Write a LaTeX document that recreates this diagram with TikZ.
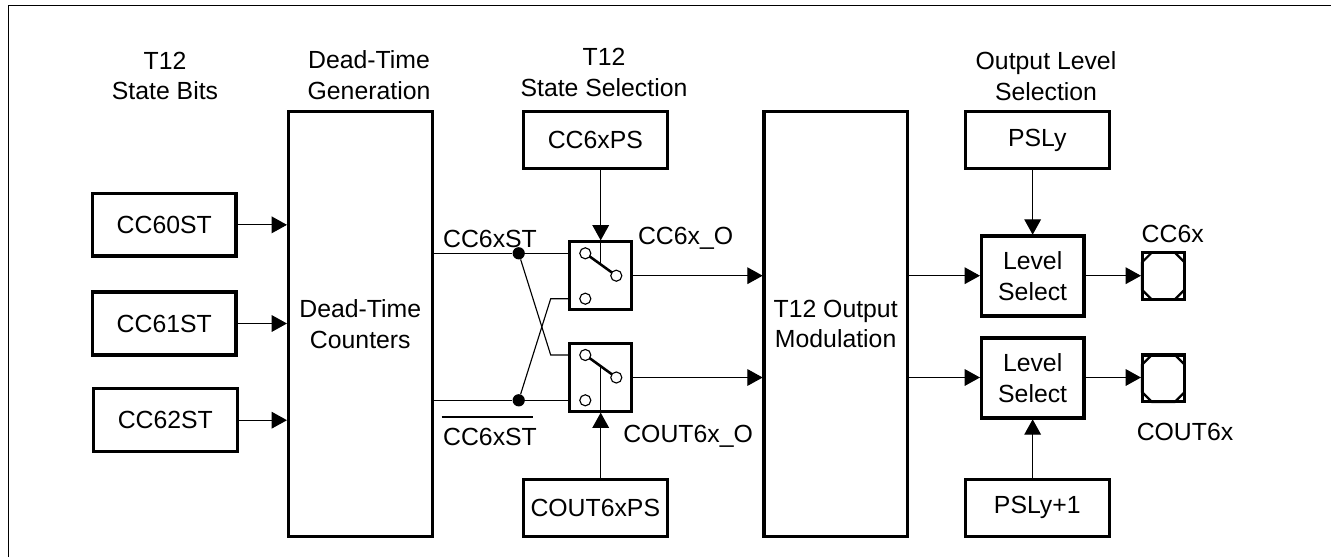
\documentclass[tikz,border=0pt]{standalone}
\usepackage{fontspec}
\setmainfont{Liberation Sans}
\usetikzlibrary{arrows.meta,calc}
\tikzset{
  thinl/.style={line width=0.85pt,black},
  arr/.style={thinl,-{Triangle[length=11.5pt,width=12.5pt]},shorten >=-0.3pt},
  blockbox/.style={draw=black,line width=2.6pt,inner sep=0pt,align=center,fill=white},
  lbl/.style={inner sep=0pt,outer sep=0pt,align=center,anchor=base},
  contact/.style={circle,draw=black,line width=0.85pt,fill=white,minimum size=8.3pt,inner sep=0pt},
  junction/.style={circle,fill=black,minimum size=9.2pt,inner sep=0pt},
}
\newcommand{\pxbox}[6]{%
  \pgfmathsetmacro{\bw}{(#4-#2)*0.75}%
  \pgfmathsetmacro{\bh}{(#5-#3)*0.75}%
  \node[blockbox,minimum width=\bw pt,minimum height=\bh pt] (#1) at ({(#2+#4)/2},{(#3+#5)/2}) {#6};%
}
\newcommand{\pxpad}[5]{%
  \pxbox{#1}{#2}{#3}{#4}{#5}{}%
  \draw[line width=1.7pt,black] ([xshift=8.5pt,yshift=-1.1pt]#1.north west) -- ([xshift=-8.5pt,yshift=-1.1pt]#1.north east)
    -- ([xshift=-1.1pt,yshift=-8.5pt]#1.north east) -- ([xshift=-1.1pt,yshift=8.5pt]#1.south east)
    -- ([xshift=-8.5pt,yshift=1.1pt]#1.south east) -- ([xshift=8.5pt,yshift=1.1pt]#1.south west)
    -- ([xshift=1.1pt,yshift=8.5pt]#1.south west) -- ([xshift=1.1pt,yshift=-8.5pt]#1.north west) -- cycle;%
}
\begin{document}
\begin{tikzpicture}[x=0.75pt,y=-0.75pt,font=\fontsize{18.6}{23}\selectfont]
\useasboundingbox (0,0) rectangle (1331,557);
\fill[white] (0,0) rectangle (1331,557);
\coordinate (fa) at (8.5,557);
\coordinate (fb) at (8.5,5.5);
\coordinate (fc) at (1331,5.5);
\draw[line width=0.9pt] (fa) -- (fb) -- (fc);

% headers
\node[lbl] (h1a) at (165,69) {T12};
\node[lbl] (h1b) at (165,99.3) {State Bits};
\node[lbl] (h2a) at (369,68.7) {Dead-Time};
\node[lbl] (h2b) at (369,99.3) {Generation};
\node[lbl] (h3a) at (604,65.7) {T12};
\node[lbl] (h3b) at (604,96.7) {State Selection};
\node[lbl] (h4a) at (1046,69.5) {Output Level};
\node[lbl] (h4b) at (1046,100) {Selection};

% blocks
\pxbox{cc60}{92.5}{193.7}{236}{256}{CC60ST}
\pxbox{cc61}{92.5}{292}{236}{355}{CC61ST}
\pxbox{cc62}{93.3}{388.7}{237.3}{451.7}{CC62ST}
\pxbox{dead}{288.3}{111.7}{432.3}{536.3}{Dead-Time\\Counters}
\pxbox{ps}{523.3}{111.7}{667.3}{168.7}{CC6xPS}
\pxbox{cps}{523.3}{479.3}{667.3}{536.3}{COUT6xPS}
\pxbox{mod}{764}{111.7}{907.3}{536.3}{T12 Output\\Modulation}
\pxbox{psl}{965.3}{111.7}{1109.3}{168.7}{PSLy}
\pxbox{pslb}{965.3}{479.3}{1109.3}{536.3}{PSLy+1}
\pxbox{lv1}{981.3}{236}{1084}{316}{Level\\Select}
\pxbox{lv2}{981.3}{338}{1084}{418}{Level\\Select}
\pxbox{sw1}{569.7}{241.7}{631.7}{309.3}{}
\pxbox{sw2}{569.7}{343.7}{631.7}{411.3}{}
\pxpad{pd1}{1142.3}{252.7}{1184.3}{299.3}
\pxpad{pd2}{1142.3}{355}{1184.3}{401.7}

% switch contacts
\coordinate (a1p) at (585.3,253.3);
\coordinate (b1p) at (616.3,275.7);
\coordinate (a2p) at (585.3,355);
\coordinate (b2p) at (616.3,377.5);
\draw[line width=1.9pt] (a1p) -- (b1p);
\draw[line width=1.9pt] (a2p) -- (b2p);
\coordinate (m1) at ($(a1p)!0.5!(b1p)$);
\coordinate (m2) at ($(a2p)!0.5!(b2p)$);

% junctions and crossing wires
\node[junction] (j1) at (518.7,253.3) {};
\node[junction] (j2) at (518.7,400.3) {};
\coordinate (k1) at (550.7,355);
\coordinate (k2) at (550.7,298.7);
\draw[thinl] (dead.east |- j1) -- (j1) -- (a1p -| sw1.west);
\draw[thinl] (dead.east |- j2) -- (j2) -- (j2 -| sw2.west);
\draw[thinl] (j1) -- (k1) -- (a2p -| sw2.west);
\draw[thinl] (j2) -- (k2) -- (k2 -| sw1.west);

% control arrows
\draw[arr] (ps.south -| sw1.north) -- (sw1.north);
\draw[thinl] (sw1.north) -- (sw1.north |- m1);
\draw[arr] (cps.north -| sw2.south) -- (sw2.south);
\draw[thinl] (sw2.south) -- (sw2.south |- m2);
\draw[arr] (psl.south -| lv1.north) -- (lv1.north);
\draw[arr] (pslb.north -| lv2.south) -- (lv2.south);

\node[contact] (a1) at (a1p) {};
\node[contact] (b1) at (b1p) {};
\node[contact] (e1) at (585.3,298.7) {};
\node[contact] (a2) at (a2p) {};
\node[contact] (b2) at (b2p) {};
\node[contact] (e2) at (585.3,400.3) {};

% signal arrows
\draw[arr] (cc60.east) -- (dead.west |- cc60.east);
\draw[arr] (cc61.east) -- (dead.west |- cc61.east);
\draw[arr] (cc62.east) -- (dead.west |- cc62.east);
\draw[arr] (b1 -| sw1.east) -- (mod.west |- b1);
\draw[arr] (b2 -| sw2.east) -- (mod.west |- b2);
\draw[arr] (mod.east |- b1) -- (lv1.west |- b1);
\draw[arr] (mod.east |- b2) -- (lv2.west |- b2);
\draw[arr] (lv1.east |- b1) -- (pd1.west |- b1);
\draw[arr] (lv2.east |- b2) -- (pd2.west |- b2);

% signal labels
\node[lbl] (st1) at (490,247.7) {CC6xST};
\node[lbl] (st2) at (490,445) {CC6xST};
\coordinate (ol1) at (441.7,417);
\coordinate (ol2) at (533,417);
\draw[thinl] (ol1) -- (ol2);
\node[lbl,anchor=base west] (o1) at (638,244) {CC6x\_O};
\node[lbl,anchor=base west] (o2) at (623.3,442.3) {COUT6x\_O};
\node[lbl] (p1) at (1172.7,242.7) {CC6x};
\node[lbl] (p2) at (1185,440.7) {COUT6x};
\end{tikzpicture}
\end{document}
